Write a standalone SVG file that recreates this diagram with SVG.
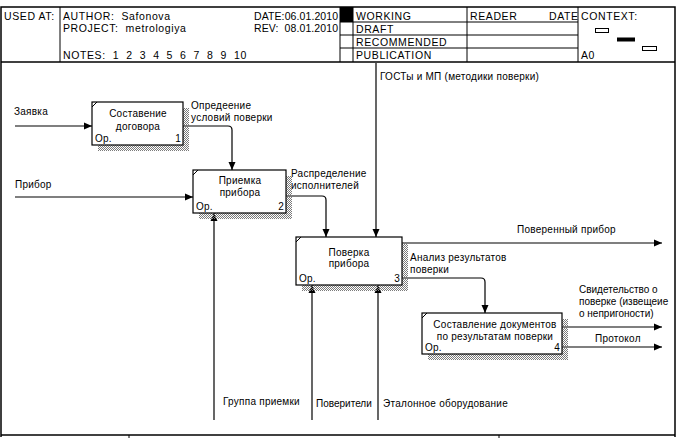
<svg xmlns="http://www.w3.org/2000/svg" width="680" height="438" viewBox="0 0 680 438">
<style>
text{font-family:"Liberation Sans",Arial,sans-serif;font-size:10px;fill:#000;letter-spacing:0.25px}
.h{font-size:10.5px;letter-spacing:0.6px}
.d{letter-spacing:0.1px}
.n{letter-spacing:0px}
.ln{stroke:#000;stroke-width:1;fill:none}
.fr{stroke:#000;stroke-width:1.5;fill:none}
.box{fill:#fff;stroke:#000;stroke-width:1.2}
.sh{fill:url(#dots)}
.c{stroke:#000;stroke-width:1.2;fill:none;marker-end:url(#ah)}
.m{text-anchor:middle}
.e{text-anchor:end}
</style>
<defs>
<pattern id="dots" width="2" height="2" patternUnits="userSpaceOnUse">
<rect x="0" y="0" width="1" height="1" fill="#7a7a7a"/>
<rect x="1" y="1" width="1" height="1" fill="#7a7a7a"/>
</pattern>
<marker id="ah" viewBox="0 0 8 8" refX="8" refY="4" markerWidth="8" markerHeight="8" markerUnits="userSpaceOnUse" orient="auto">
<path d="M0,0.5 L8,4 L0,7.5 Z" fill="#000"/>
</marker>
</defs>
<rect width="680" height="438" fill="#fff"/>

<g id="header">
<path class="fr" d="M1,437 L1,7 L675,7 L675,437"/>
<line class="fr" x1="1" y1="62" x2="675" y2="62"/>
<line class="ln" x1="60" y1="7" x2="60" y2="62"/>
<line class="ln" x1="340" y1="7" x2="340" y2="62"/>
<line class="ln" x1="353" y1="7" x2="353" y2="62"/>
<line class="ln" x1="467" y1="7" x2="467" y2="62"/>
<line class="ln" x1="578" y1="7" x2="578" y2="62"/>
<rect x="340" y="7" width="13" height="15" fill="#000"/>
<line class="ln" x1="340" y1="22" x2="578" y2="22"/>
<line class="ln" x1="340" y1="35" x2="578" y2="35"/>
<line class="ln" x1="340" y1="48" x2="578" y2="48"/>
<text class="h" x="4" y="20">USED AT:</text>
<text class="h" x="63" y="20" xml:space="preserve">AUTHOR:  Safonova</text>
<text class="h" x="63" y="32" xml:space="preserve">PROJECT:  metrologiya</text>
<text class="h" x="63" y="59" xml:space="preserve">NOTES:  1  2  3  4  5  6  7  8  9  10</text>
<text class="h d" x="254" y="20">DATE:06.01.2010</text>
<text class="h d" x="254" y="32" xml:space="preserve">REV:  08.01.2010</text>
<text class="h" x="356" y="20">WORKING</text>
<text class="h" x="356" y="33">DRAFT</text>
<text class="h" x="356" y="46">RECOMMENDED</text>
<text class="h" x="356" y="59">PUBLICATION</text>
<text class="h" x="470" y="20">READER</text>
<text class="h" x="549" y="20">DATE</text>
<text class="h" x="581" y="20">CONTEXT:</text>
<text class="h" x="581" y="59">A0</text>
<rect x="595.5" y="28.5" width="13" height="4" fill="#fff" stroke="#000" stroke-width="1"/>
<rect x="617" y="37.5" width="18" height="4" fill="#000"/>
<rect x="642.5" y="46.5" width="14" height="4" fill="#fff" stroke="#000" stroke-width="1"/>
<line class="fr" x1="1" y1="435" x2="675" y2="435"/>
<line class="ln" x1="129" y1="435" x2="129" y2="438"/>
<line class="ln" x1="499" y1="435" x2="499" y2="438"/>
</g>

<g id="connectors">
<path class="c" d="M15,126 L92,126"/>
<path class="c" d="M15,197 L193,197"/>
<path class="c" d="M183,126 L228,126 Q232,126 232,130 L232,170"/>
<path class="c" d="M286,196 L322,196 Q326,196 326,200 L326,237"/>
<path class="c" d="M376,63 L376,237"/>
<path class="c" d="M402,243 L662,243"/>
<path class="c" d="M402,278 L481,278 Q485,278 485,282 L485,313"/>
<path class="c" d="M562,327 L662,327"/>
<path class="c" d="M562,347 L662,347"/>
<path class="c" d="M214,420 L214,213"/>
<path class="c" d="M312,420 L312,285"/>
<path class="c" d="M378,420 L378,285"/>
<text x="14" y="115">Заявка</text>
<text x="15" y="188">Прибор</text>
<text x="191" y="109">Опредеение</text>
<text x="191" y="121">условий поверки</text>
<text x="291" y="177">Распределение</text>
<text x="291" y="189">исполнителей</text>
<text x="380" y="80">ГОСТы и МП (методики поверки)</text>
<text x="517" y="233">Поверенный прибор</text>
<text x="410" y="261">Анализ результатов</text>
<text x="410" y="273">поверки</text>
<text class="n" x="579" y="293">Свидетельство о</text>
<text class="n" x="579" y="305">поверке (извещеие</text>
<text class="n" x="579" y="317">о непригоности)</text>
<text x="595" y="342">Протокол</text>
<text x="223" y="405">Группа приемки</text>
<text class="n" x="316" y="407">Поверители</text>
<text x="383" y="407">Эталонное оборудование</text>
</g>

<g id="node1">
<path class="sh" d="M183,108 h6 v43 h-91 v-6 h85 z"/>
<rect class="box" x="92" y="102" width="91" height="43"/>
<line class="ln" x1="92" y1="107" x2="97" y2="102"/>
<text class="m" x="138" y="117">Составение</text>
<text class="m" x="138" y="130">договора</text>
<text x="95" y="142">Ор.</text>
<text class="e" x="181" y="142">1</text>
</g>

<g id="node2">
<path class="sh" d="M286,176 h6 v43 h-93 v-6 h87 z"/>
<rect class="box" x="193" y="170" width="93" height="43"/>
<line class="ln" x1="193" y1="175" x2="198" y2="170"/>
<text class="m" x="240" y="184">Приемка</text>
<text class="m" x="240" y="196">прибора</text>
<text x="196" y="210">Ор.</text>
<text class="e" x="284" y="210">2</text>
</g>

<g id="node3">
<path class="sh" d="M402,243 h6 v48 h-106 v-6 h100 z"/>
<rect class="box" x="296" y="237" width="106" height="48"/>
<line class="ln" x1="296" y1="242" x2="301" y2="237"/>
<text class="m" x="349" y="256">Поверка</text>
<text class="m" x="349" y="267">прибора</text>
<text x="299" y="282">Ор.</text>
<text class="e" x="400" y="282">3</text>
</g>

<g id="node4">
<path class="sh" d="M562,319 h6 v41 h-140 v-6 h134 z"/>
<rect class="box" x="422" y="313" width="140" height="41"/>
<line class="ln" x1="422" y1="318" x2="427" y2="313"/>
<text class="m" x="495" y="328">Составление документов</text>
<text class="m" x="495" y="340">по результатам поверки</text>
<text x="425" y="351">Ор.</text>
<text class="e" x="560" y="351">4</text>
</g>
</svg>
